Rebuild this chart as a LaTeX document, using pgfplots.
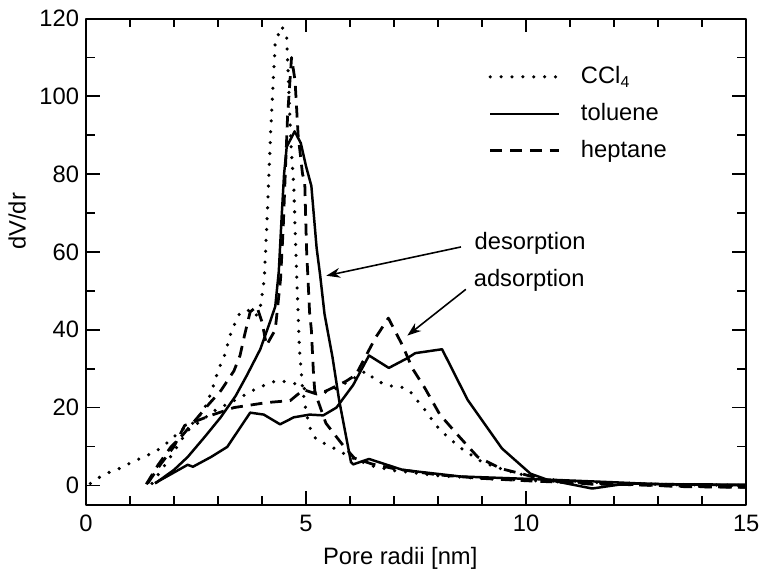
\documentclass[border=0pt]{standalone}
\usepackage{fontspec}
\setmainfont{Liberation Sans}
\usepackage{pgfplots}
\pgfplotsset{compat=1.18}
\usetikzlibrary{arrows.meta}

\begin{document}
\begin{tikzpicture}
\begin{axis}[
  scale only axis, width=334pt, height=246pt,
  xmin=0, xmax=15, ymin=-5, ymax=120,
  xtick={0,5,10,15}, ytick={0,20,...,120},
  minor x tick num=4, minor y tick num=1,
  tick align=inside,
  major tick length=7pt, minor tick length=4.5pt,
  every tick/.style={line width=0.9pt, black},
  axis line style={line width=1pt},
  xlabel={Pore radii [nm]}, ylabel={dV/dr},
  every axis x label/.append style={at={(ticklabel cs:0.476)}, yshift=-1pt},
  every axis y label/.append style={at={(ticklabel cs:0.583)}},
  xticklabel style={yshift=-1.5pt},
  /pgf/number format/assume math mode=true,
  ticklabel style={font=\fontsize{12}{14}\selectfont},
  label style={font=\fontsize{12}{14}\selectfont},
  legend style={at={(rel axis cs:0.6,0.918)}, anchor=north west, draw=none, fill=none,
    font=\fontsize{12}{14}\selectfont, row sep=4.5pt,
    /tikz/every odd column/.append style={column sep=8pt}},
  legend cell align=left,
  legend image code/.code={\draw[#1] (0pt,0pt) -- (35pt,0pt);},
  line join=round,
]
\tikzset{
  dotl/.style={black, line width=1.8pt, line cap=round, dash pattern=on 0pt off 5.5pt},
  solidl/.style={black, line width=1.25pt},
  dashl/.style={black, line width=1.4pt, dash pattern=on 6pt off 4pt},
}
% CCl4 desorption
\addplot[dotl] coordinates {
(0.1,0.5)(0.4,2.8)(0.75,4.3)(1.05,6)(1.3,7.3)(1.57,8.6)(1.85,11)(2.2,14.5)(2.5,16.5)(2.7,20)(2.85,24)(3.0,29.5)(3.15,33.5)(3.3,39.5)(3.5,44.5)(3.7,45)(3.85,43.5)(3.95,45)(4.05,53)(4.12,70)(4.2,92)(4.3,114)(4.45,118)(4.56,115)(4.6,104)(4.66,87)(4.72,77)(4.79,53)(4.85,35)(4.92,25)(5.0,19)(5.08,15)(5.24,11.6)(5.46,10.6)(5.73,9)(6.0,7.3)(6.5,5)(7,3.8)(8,2.5)(9,1.8)(10,1.3)(11,0.8)(12,0.5)(13,0.3)(14,0)(15,-0.3)};
\addlegendentry{CCl\textsubscript{4}}
% toluene desorption
\addplot[solidl] coordinates {
(1.57,0.5)(2.0,4)(2.31,7.3)(2.7,12.5)(3.06,17.5)(3.4,23)(3.66,28.4)(3.96,35)(4.18,42)(4.3,46)(4.38,55)(4.45,70)(4.5,80)(4.56,87)(4.74,91)(4.88,88)(5.0,82)(5.12,77)(5.24,61)(5.32,54)(5.42,44)(5.6,33)(5.75,22)(6.02,6)(6.07,5.4)(6.43,6.8)(7.19,4)(8.5,2.3)(10.47,1.5)(12,0.8)(13,0.3)(15,0.2)};
\addlegendentry{toluene}
% heptane desorption
\addplot[dashl] coordinates {
(1.37,0.3)(1.64,5.3)(1.93,9.9)(2.2,13)(2.5,17)(2.8,21)(3.06,24.3)(3.36,29.4)(3.5,33.4)(3.6,38.5)(3.73,44.6)(3.88,46)(4.0,42)(4.1,36)(4.3,40)(4.42,53)(4.48,66)(4.52,78)(4.58,95)(4.67,110)(4.75,104)(4.82,90)(4.92,80)(4.97,78)(5.01,61)(5.08,44.5)(5.12,40)(5.17,28.4)(5.2,24)(5.45,16)(5.75,11.6)(5.87,9.9)(6.1,7)(6.5,5.5)(7,4.3)(8,2.7)(9,1.8)(10,1.2)(11,0.7)(12,0.3)(13,0)(14,-0.3)(15,-0.5)};
\addlegendentry{heptane}
% CCl4 adsorption
\addplot[dotl, forget plot] coordinates {
(1.5,0.5)(1.9,7)(2.3,14)(2.92,19.2)(3.4,22)(3.89,25)(4.34,27)(4.72,26.3)(5.01,24.6)(5.39,23.8)(5.7,25)(6.0,27)(6.36,29.4)(6.58,27)(6.88,25.6)(7.1,25.5)(7.33,24.6)(7.53,21.8)(7.75,18.7)(7.93,15.7)(8.22,12.4)(8.54,9.4)(9.0,6)(9.5,4)(10,2.5)(10.5,1.5)(11.5,0.8)(13,0.3)(15,0)};
% toluene adsorption
\addplot[solidl, forget plot] coordinates {
(1.57,0.6)(2.31,5.3)(2.43,4.8)(2.84,7.3)(3.21,9.9)(3.73,18.7)(4.04,18.2)(4.41,15.7)(4.72,17.5)(5.08,18.2)(5.39,18)(5.69,20)(6.07,25.8)(6.43,33.4)(6.88,30.2)(7.3,32.7)(7.48,34)(8.09,35)(8.67,22)(9.45,9.5)(10.1,3)(10.47,1.5)(11.5,-0.8)(12.3,0.5)(15,0)};
% heptane adsorption
\addplot[dashl, forget plot] coordinates {
(1.4,0.5)(1.7,5.5)(2.0,10)(2.24,15.4)(2.84,18)(3.36,20)(4.11,21.3)(4.64,21.8)(4.94,24.6)(5.24,23.5)(5.46,24.3)(5.91,26.8)(6.13,28.4)(6.58,38)(6.87,43)(7.19,36)(7.42,30)(7.7,25)(8.04,18.2)(8.49,12.4)(8.9,7.3)(9.43,4.3)(9.96,2.8)(10.5,1.2)(11.5,0.3)(12.5,0.2)(13.5,-0.3)(15,-0.5)};

\node[font=\fontsize{12}{14}\selectfont] at (axis cs:10.09,62.3) {desorption};
\node[font=\fontsize{12}{14}\selectfont] at (axis cs:10.07,52.7) {adsorption};
\draw[-{Stealth[length=7pt,width=5pt]}, line width=0.8pt] (axis cs:8.52,61.3) -- (axis cs:5.46,53.9);
\draw[-{Stealth[length=7pt,width=5pt]}, line width=0.8pt] (axis cs:8.63,50.4) -- (axis cs:7.3,38.5);
\end{axis}
\pgfresetboundingbox
\path[use as bounding box] ([shift={(-43.5pt,-35.5pt)}]current axis.south west) rectangle ++(387pt,290.9pt);
\end{tikzpicture}
\end{document}
